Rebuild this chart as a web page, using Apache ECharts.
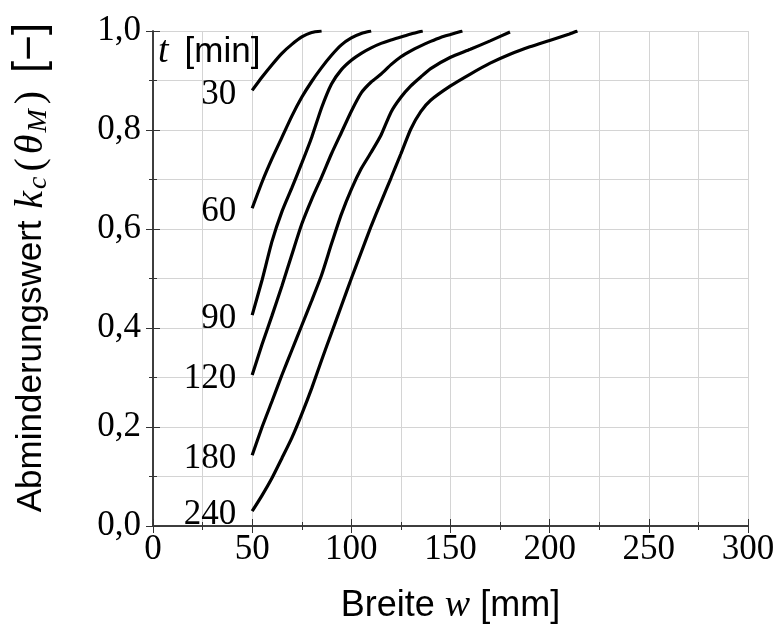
<!DOCTYPE html>
<html>
<head>
<meta charset="utf-8">
<script src="https://cdn.jsdelivr.net/npm/echarts@6/dist/echarts.min.js"></script>
<style>
  html, body { margin: 0; padding: 0; background: #fff; }
  #chart { width: 778px; height: 628px; }
</style>
</head>
<body>
<div id="chart"></div>
<script>
const times = ['30', '60', '90', '120', '180', '240'];

const w30 = [50, 55, 60, 65, 70, 75, 80, 85];
const k30 = [0.88, 0.907, 0.932, 0.955, 0.973, 0.988, 0.997, 1.0];

const w60 = [50, 55, 60, 65, 70, 75, 80, 85, 90, 95, 100, 105, 110];
const k60 = [0.642, 0.695, 0.742, 0.785, 0.828, 0.866, 0.898, 0.926, 0.951, 0.972, 0.986, 0.995, 1.0];

const w90 = [50, 55, 60, 65, 70, 75, 80, 85, 90, 95, 100, 105, 110, 115, 120, 125, 130, 136];
const k90 = [0.426, 0.497, 0.575, 0.635, 0.683, 0.733, 0.785, 0.845, 0.893, 0.922, 0.941, 0.955, 0.966, 0.975, 0.982, 0.988, 0.994, 1.0];

const w120 = [50, 55, 60, 65, 70, 75, 80, 85, 90, 95, 100, 105, 110, 115, 120, 125, 130, 135, 140, 145, 150, 156];
const k120 = [0.305, 0.367, 0.425, 0.485, 0.548, 0.61, 0.66, 0.705, 0.752, 0.795, 0.838, 0.875, 0.897, 0.913, 0.932, 0.948, 0.96, 0.97, 0.979, 0.987, 0.993, 1.0];

const w180 = [50, 55, 60, 65, 70, 75, 80, 85, 90, 95, 100, 105, 110, 115, 120, 125, 130, 135, 140, 150, 160, 170, 180];
const k180 = [0.143, 0.2, 0.252, 0.305, 0.355, 0.405, 0.455, 0.507, 0.57, 0.63, 0.68, 0.722, 0.755, 0.79, 0.836, 0.866, 0.889, 0.907, 0.924, 0.947, 0.963, 0.98, 0.998];

const w240 = [50, 55, 60, 65, 70, 75, 80, 85, 90, 95, 100, 105, 110, 115, 120, 125, 130, 135, 140, 150, 160, 170, 180, 190, 200, 210, 214];
const k240 = [0.03, 0.062, 0.097, 0.137, 0.178, 0.226, 0.278, 0.335, 0.39, 0.445, 0.5, 0.553, 0.606, 0.655, 0.703, 0.752, 0.802, 0.837, 0.86, 0.889, 0.913, 0.935, 0.953, 0.968, 0.981, 0.994, 1.0];

const curvesW = [w30, w60, w90, w120, w180, w240];
const curvesK = [k30, k60, k90, k120, k180, k240];

let chart = echarts.init(document.getElementById('chart'));

const serif = 'Liberation Serif';
const sans = 'Liberation Sans';
const ink = '#000';
const gridLine = { lineStyle: { color: '#d4d4d4', width: 1 } };
const frame = { show: true, lineStyle: { color: '#333', width: 1.5 } };
const tick = { show: true, inside: true, length: 7, lineStyle: { color: '#333' } };
const minor = { show: true, splitNumber: 2, length: 4, lineStyle: { color: '#333' } };

let series = times.map((t, i) => ({
    name: t,
    type: 'line',
    data: curvesW[i].map((w, j) => [w, curvesK[i][j]]),
    showSymbol: false,
    symbol: 'none',
    smooth: 0.2,
    lineStyle: { color: '#000', width: 3.2 },
    z: 5
}));

// Beschriftung der Kurven am linken Kurvenanfang
series.push({
    name: 'labels',
    type: 'scatter',
    symbolSize: 0,
    itemStyle: { opacity: 1 },
    data: times.map((t, i) => ({ name: t, value: [curvesW[i][0], curvesK[i][0]] })),
    label: {
        show: true, position: 'left', distance: 16, offset: [0, 4], formatter: '{b}',
        fontFamily: serif, fontSize: 35, color: ink, textBorderWidth: 0
    },
    z: 6
});

let option = {
    animation: false,
    grid: { left: 153, right: 30, top: 31, bottom: 102, outerBoundsMode: 'none', containLabel: false },
    xAxis: [{
        type: 'value', min: 0, max: 300, interval: 50,
        axisLine: frame, axisTick: tick, minorTick: minor,
        splitLine: { show: true, ...gridLine },
        minorSplitLine: { show: true, ...gridLine },
        axisLabel: { fontFamily: serif, fontSize: 35, color: ink, margin: 6 },
        name: '{s|Breite }{i|w}{s| [mm]}',
        nameLocation: 'middle', nameGap: 61,
        nameTextStyle: {
            rich: {
                s: { fontFamily: sans, fontSize: 36, color: ink },
                i: { fontFamily: serif, fontStyle: 'italic', fontSize: 38, color: ink }
            }
        }
    }, {
        type: 'value', min: 0, max: 300, interval: 50, position: 'top',
        axisLine: frame, axisTick: tick, minorTick: minor,
        splitLine: { show: false }, axisLabel: { show: false }
    }],
    yAxis: [{
        type: 'value', min: 0, max: 1, interval: 0.2,
        axisLine: frame, axisTick: tick, minorTick: minor,
        splitLine: { show: true, ...gridLine },
        minorSplitLine: { show: true, ...gridLine },
        axisLabel: {
            fontFamily: serif, fontSize: 35, color: ink, margin: 12,
            formatter: v => v.toFixed(1).replace('.', ',')
        },
        name: '{s|Abminderungswert }{i|k}{sub|c}{r|(}{i|θ}{sub|M}{r|)}{b|[−]}',
        nameLocation: 'middle', nameGap: 100, nameRotate: 90,
        nameTextStyle: {
            padding: [0, 0, 0, 22],
            rich: {
                s: { fontFamily: sans, fontSize: 35, color: ink },
                i: { fontFamily: serif, fontStyle: 'italic', fontSize: 40, color: ink, padding: [0, 2, 0, 2] },
                r: { fontFamily: serif, fontSize: 40, color: ink, padding: [0, 2, 0, 2] },
                sub: { fontFamily: serif, fontStyle: 'italic', fontSize: 28, color: ink,
                       verticalAlign: 'bottom', padding: [14, 3, 0, 0] },
                b: { fontFamily: sans, fontSize: 44, color: ink, padding: [0, 0, 0, 16] }
            }
        }
    }, {
        type: 'value', min: 0, max: 1, interval: 0.2, position: 'right',
        axisLine: frame, axisTick: tick, minorTick: minor,
        splitLine: { show: false }, axisLabel: { show: false }
    }],
    graphic: [{
        type: 'text', left: 158, top: 33, z: 10,
        style: {
            text: '{i|t}{s|[min]}',
            rich: {
                i: { fontFamily: serif, fontStyle: 'italic', fontSize: 38, fill: ink, padding: [0, 16, 0, 0] },
                s: { fontFamily: sans, fontSize: 35, fill: ink }
            }
        }
    }],
    series: series
};

chart.setOption(option);
</script>
</body>
</html>
